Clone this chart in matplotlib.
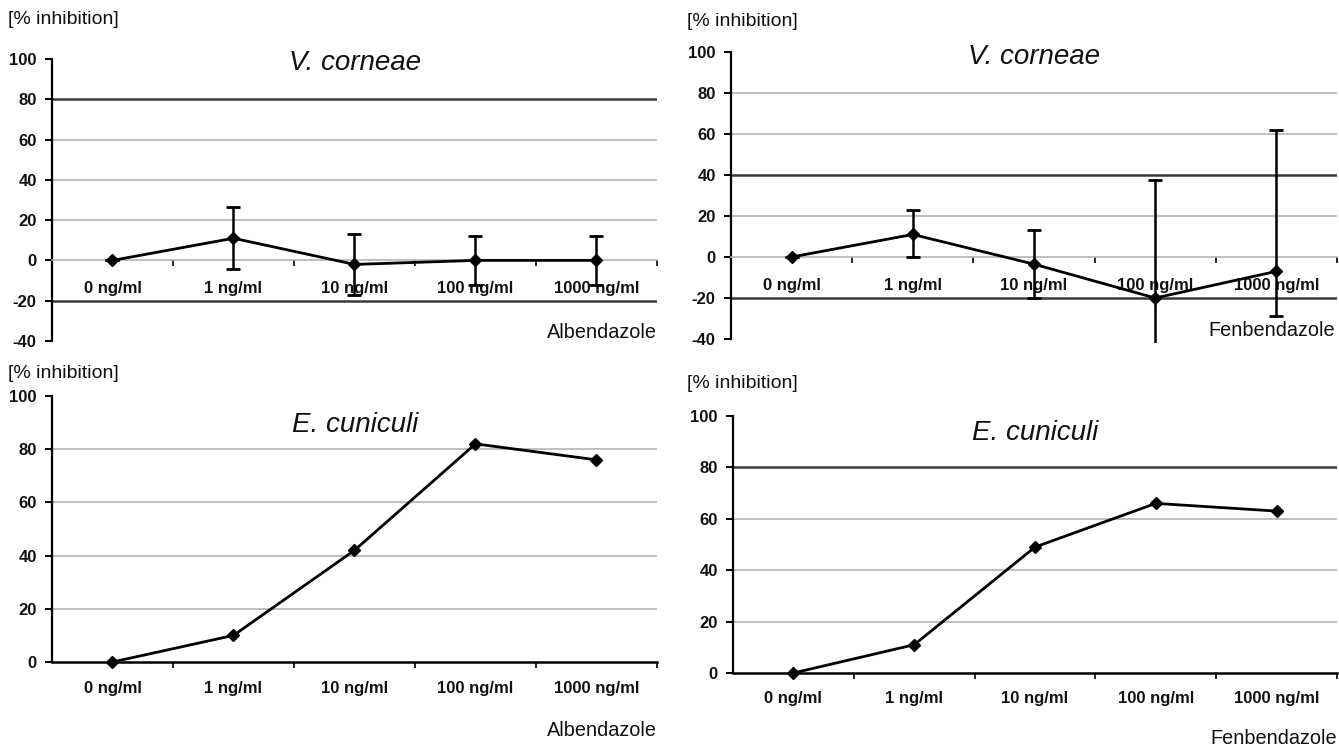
import matplotlib
matplotlib.use('Agg')
import matplotlib.pyplot as plt

plt.rcParams['font.family'] = ['Liberation Sans', 'DejaVu Sans']
plt.rcParams['axes.unicode_minus'] = False

W, H = 1339, 749

# data
conc = ['0 ng/ml', '1 ng/ml', '10 ng/ml', '100 ng/ml', '1000 ng/ml']
vc_alb = [0, 11, -2, 0, 0]
vc_alb_err = [0, 15.5, 15.3, 12, 12]
vc_fen = [0, 11, -3.5, -20, -7]
vc_fen_err_lo = [0, 11, 16.5, 57.5, 22]
vc_fen_err_hi = [0, 12, 16.5, 57.5, 69]
ec_alb = [0, 10, 42, 82, 76]
ec_fen = [0, 11, 49, 66, 63]

LIGHT = '#b4b4b4'
DARK = '#3a3a3a'


def fx(x):
    return x / W


def fy(y):
    return 1 - y / H


def make_ax(fig, x0, x1, ytop, ybot, ylim, spine_lo, grid, axis_col):
    ax = fig.add_axes([fx(x0), fy(ybot), fx(x1 - x0), (ybot - ytop) / H])
    ax.set_xlim(-0.5, 4.5)
    ax.set_ylim(*ylim)
    for s in ['top', 'right']:
        ax.spines[s].set_visible(False)
    ax.spines['left'].set_bounds(spine_lo, 100)
    ax.spines['left'].set_linewidth(1.6)
    ax.spines['bottom'].set_position(('data', 0))
    ax.spines['bottom'].set_color(axis_col)
    ax.spines['bottom'].set_linewidth(1.8 if axis_col == 'black' else 1.2)
    ax.set_yticks(range(spine_lo, 101, 20))
    ax.set_xticks(range(5))
    ax.set_xticklabels(conc)
    ax.set_xticks([0.5, 1.5, 2.5, 3.5, 4.5], minor=True)
    ax.tick_params(axis='x', which='major', length=0, pad=15)
    ax.tick_params(axis='x', which='minor', length=4, width=1.2, color='black', direction='out')
    ax.tick_params(axis='y', length=5, width=1.4, pad=6)
    for lab in ax.get_xticklabels() + ax.get_yticklabels():
        lab.set_fontsize(12)
        lab.set_fontweight('bold')
        lab.set_color('#111111')
    for val, dark in grid:
        ax.axhline(val, color=DARK if dark else LIGHT, lw=1.8 if dark else 1.2, zorder=1)
    return ax


fig = plt.figure(figsize=(W / 100, H / 100), dpi=100)

# top left: V. corneae, Albendazole
ax1 = make_ax(fig, 52, 657, 59, 59 + 142 * 2.014, (-42, 100), -40,
              [(80, True), (60, False), (40, False), (20, False), (-20, True)], LIGHT)
ax1.errorbar(range(5), vc_alb, yerr=vc_alb_err, color='black', lw=2, marker='D', ms=6.5,
             ecolor='black', elinewidth=1.8, capsize=5, capthick=2, zorder=3)

# top right: V. corneae, Fenbendazole
ax2 = make_ax(fig, 731, 1337, 52, 52 + 142 * 2.05, (-42, 100), -40,
              [(80, False), (60, False), (40, True), (20, False), (-20, True)], LIGHT)
ax2.errorbar(range(5), vc_fen, yerr=[vc_fen_err_lo, vc_fen_err_hi], color='black', lw=2,
             marker='D', ms=6.5, ecolor='black', elinewidth=1.8, capsize=5, capthick=2, zorder=3)

# bottom left: E. cuniculi, Albendazole
ax3 = make_ax(fig, 52, 657, 396, 662, (0, 100), 0,
              [(80, False), (60, False), (40, False), (20, False)], 'black')
ax3.plot(range(5), ec_alb, color='black', lw=2, marker='D', ms=6.5, clip_on=False, zorder=3)
ax3.tick_params(axis='x', which='major', pad=14)

# bottom right: E. cuniculi, Fenbendazole
ax4 = make_ax(fig, 733, 1337, 416, 673, (0, 100), 0,
              [(80, True), (60, False), (40, False), (20, False)], 'black')
ax4.plot(range(5), ec_fen, color='black', lw=2, marker='D', ms=6.5, clip_on=False, zorder=3)
ax4.tick_params(axis='x', which='major', pad=13)

# titles, axis labels, drug names
title_kw = dict(fontsize=20, style='italic', ha='center', va='center', color='#111111')
fig.text(fx(355), fy(63), 'V. corneae', **title_kw)
fig.text(fx(1034), fy(57), 'V. corneae', **title_kw)
fig.text(fx(355), fy(425), 'E. cuniculi', **title_kw)
fig.text(fx(1035), fy(433), 'E. cuniculi', **title_kw)

lab_kw = dict(fontsize=14, ha='left', va='center', color='#111111')
fig.text(fx(8), fy(20), '[% inhibition]', **lab_kw)
fig.text(fx(687), fy(21), '[% inhibition]', **lab_kw)
fig.text(fx(8), fy(374), '[% inhibition]', **lab_kw)
fig.text(fx(687), fy(383), '[% inhibition]', **lab_kw)

drug_kw = dict(fontsize=14.3, ha='right', va='center', color='#111111')
fig.text(fx(657), fy(332), 'Albendazole', **drug_kw)
fig.text(fx(1335), fy(331), 'Fenbendazole', **drug_kw)
fig.text(fx(657), fy(731), 'Albendazole', **drug_kw)
fig.text(fx(1337), fy(739), 'Fenbendazole', **drug_kw)

fig.savefig('out.png', dpi=100)
